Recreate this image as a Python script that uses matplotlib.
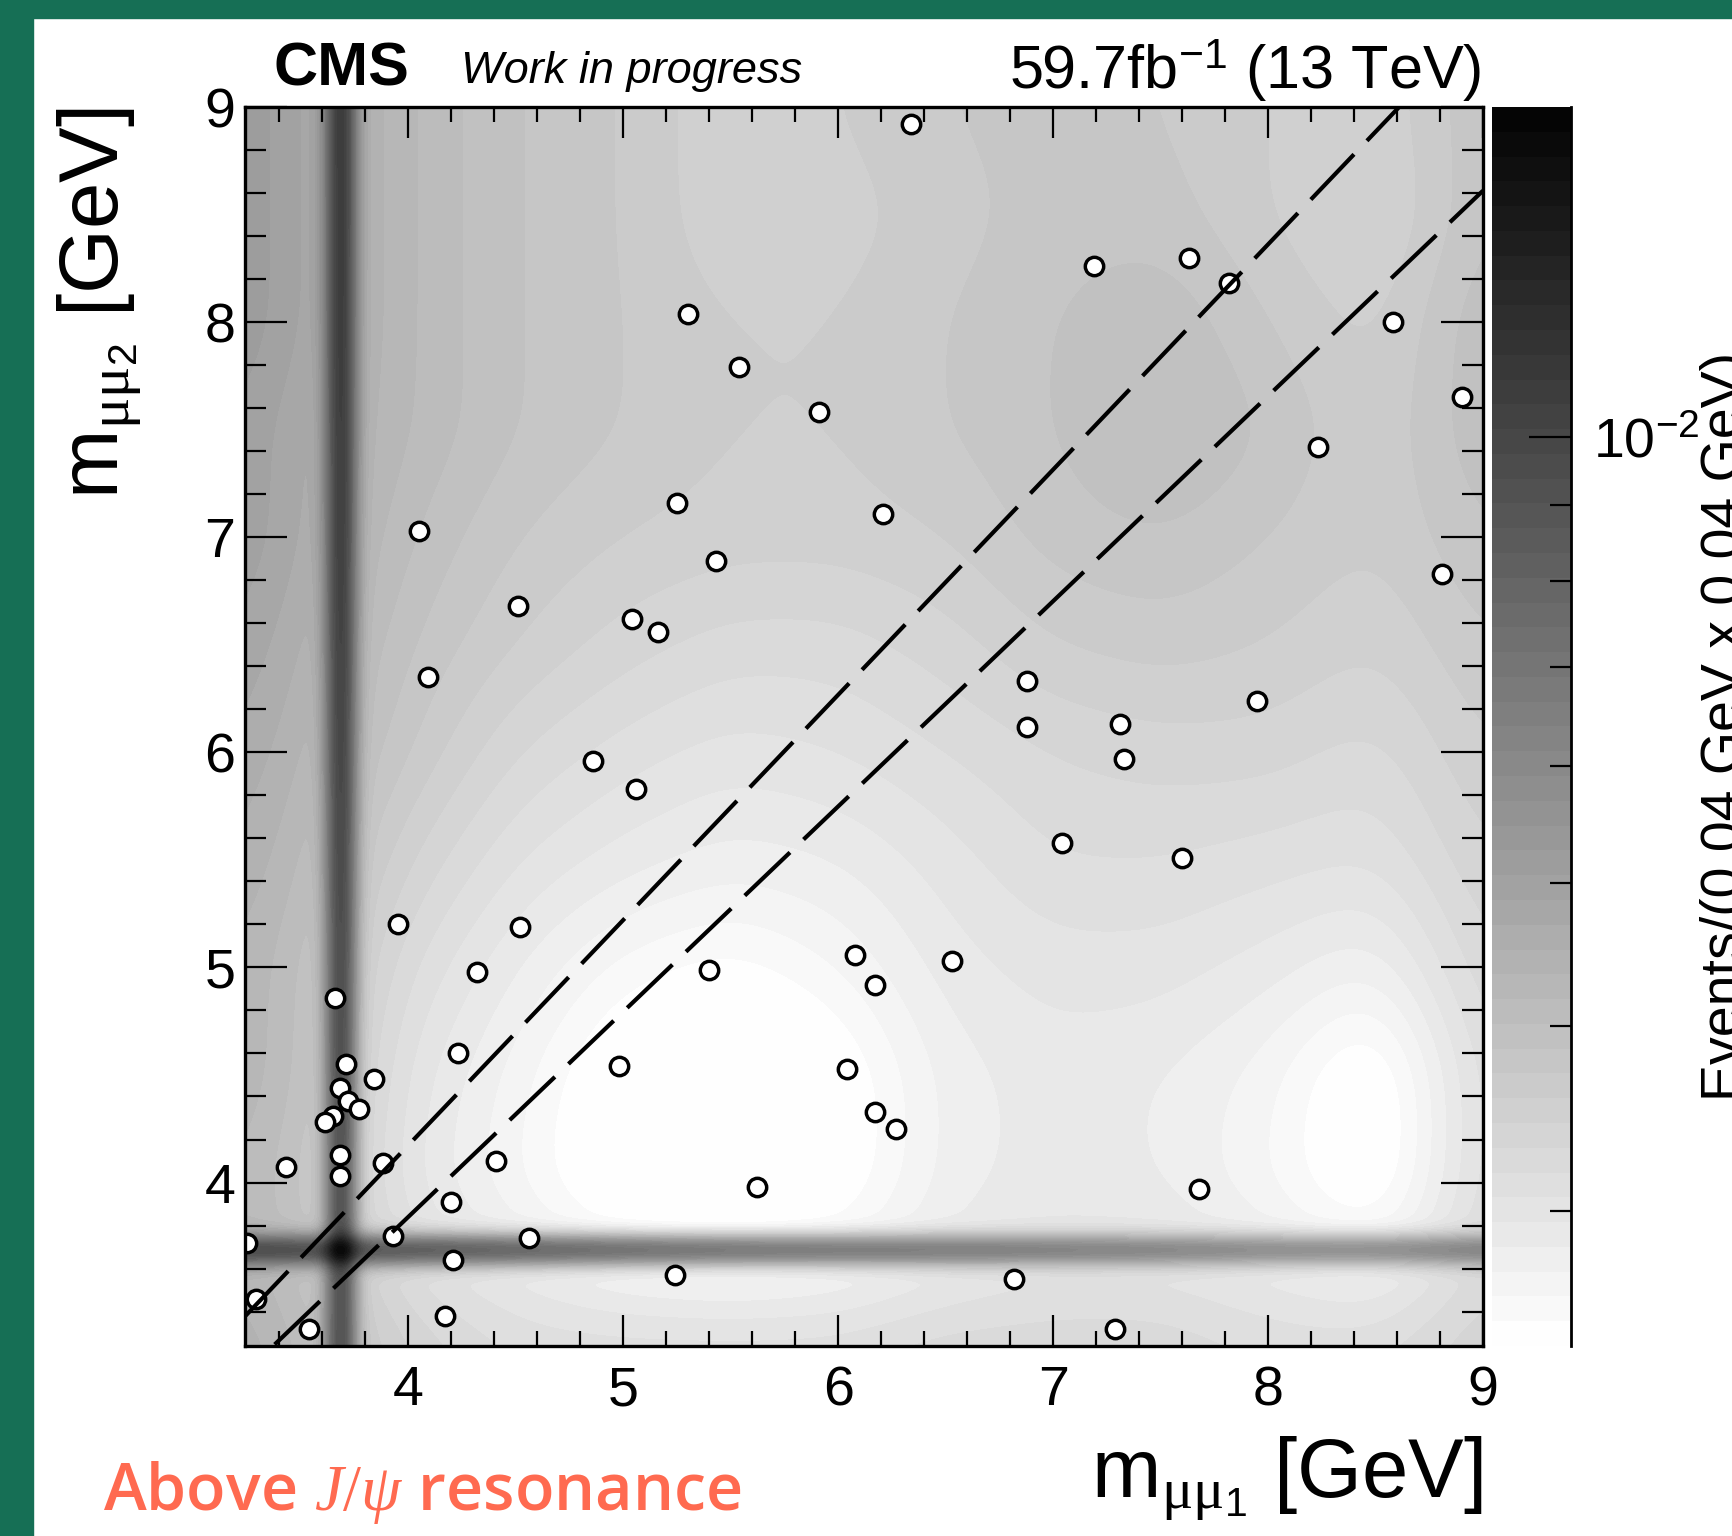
import numpy as np
import matplotlib
matplotlib.use('Agg')
import matplotlib.pyplot as plt
import matplotlib.ticker as mticker
from matplotlib.colors import ListedColormap, LogNorm
from matplotlib.patches import Rectangle

plt.rcParams['font.family'] = ['Liberation Sans', 'DejaVu Sans']
plt.rcParams['mathtext.fontset'] = 'custom'
plt.rcParams['mathtext.rm'] = 'Liberation Serif'
plt.rcParams['mathtext.it'] = 'Liberation Serif:italic'
plt.rcParams['mathtext.sf'] = 'Liberation Sans'

# selected events (m_mumu1, m_mumu2) in GeV
m1 = [6.34, 7.19, 7.63, 7.82, 5.30, 8.58, 5.54, 8.90, 5.91, 8.23,
      5.25, 6.21, 4.05, 5.43, 8.81, 4.51, 5.04, 5.16, 4.09, 6.88,
      7.95, 6.88, 7.31, 7.33, 4.86, 5.06, 7.04, 7.60, 3.95, 4.52,
      6.08, 6.17, 6.53, 4.32, 5.40, 3.66, 4.23, 3.71, 3.68, 3.84,
      3.72, 3.77, 3.65, 3.61, 4.98, 6.04, 6.17, 6.27, 3.68, 3.43,
      3.88, 4.41, 3.68, 5.62, 7.68, 4.20, 3.25, 3.93, 4.56, 4.21,
      5.24, 6.82, 3.29, 3.54, 4.17, 7.29]
m2 = [8.92, 8.26, 8.30, 8.18, 8.04, 8.00, 7.79, 7.65, 7.58, 7.42,
      7.16, 7.11, 7.03, 6.89, 6.83, 6.68, 6.62, 6.56, 6.35, 6.33,
      6.24, 6.12, 6.13, 5.97, 5.96, 5.83, 5.58, 5.51, 5.20, 5.19,
      5.06, 4.92, 5.03, 4.98, 4.99, 4.86, 4.60, 4.55, 4.44, 4.48,
      4.38, 4.34, 4.31, 4.28, 4.54, 4.53, 4.33, 4.25, 4.13, 4.07,
      4.09, 4.10, 4.03, 3.98, 3.97, 3.91, 3.72, 3.75, 3.74, 3.64,
      3.57, 3.55, 3.46, 3.32, 3.38, 3.32]

# dashed edges of the diagonal signal region
upper_x = [3.24, 8.61]
upper_y = [3.378, 9.0]
lower_x = [3.378, 9.0]
lower_y = [3.247, 8.611]

# background pdf, read as contour band (0 = white ... 50 = black) on a 0.5 GeV grid
grid_m = [3.25, 3.5, 4.0, 4.5, 5.0, 5.5, 6.0, 6.5, 7.0, 7.5, 8.0, 8.5, 9.0]
bkg_band = [
    [16, 14, 9, 7, 7, 7, 7, 8, 8, 8, 7, 7, 9],             # m2 = 3.25
    [15, 13, 7, 5, 3.5, 3, 3.5, 5, 6, 6, 5, 4, 8],         # 3.5
    [14, 12, 5, 2, -1.5, -3, -0.5, 3.5, 4.5, 4, 2, -1.5, 7],  # 4.0
    [15, 13, 5.5, 2.5, -1, -3, -0.5, 3.5, 4.5, 4, 2.5, -1.5, 7],  # 4.5
    [15, 13, 7, 4, 1.5, 0.5, 2, 4.5, 5.5, 5.5, 4.5, 3, 8],  # 5.0
    [16, 14, 9, 6, 4.5, 3.5, 4, 5.5, 7, 7, 6.5, 6, 9],     # 5.5
    [17, 15, 11, 8, 6.5, 5.5, 6, 7, 8, 8.5, 8.5, 7.5, 10],  # 6.0
    [18, 16, 12, 10, 8.5, 7.5, 7.5, 8.5, 10, 10.5, 10, 9, 11],  # 6.5
    [19, 17, 13, 11, 10, 9.5, 9.5, 10, 11.5, 12, 11, 10, 12],  # 7.0
    [19, 17, 14, 12, 11, 10, 10, 11, 12, 13.5, 12, 10, 13],  # 7.5
    [20, 18, 14, 12, 11, 10, 10, 11, 12, 13, 11, 9.5, 13],  # 8.0
    [20, 18, 14, 12, 11, 9, 9.5, 10.5, 11.5, 11.5, 10, 8.5, 12],  # 8.5
    [20, 18, 14, 12, 11, 9, 10, 11, 11.5, 11, 10, 9, 12],  # 9.0
]

# psi(2S) bands
psi_mass = 3.686
psi_width = 0.048
vband_m = [3.24, 5.0, 7.0, 9.0]
vband_amp = [5.2e-3, 5.6e-3, 6.0e-3, 6.2e-3]
hband_m = [3.24, 4.2, 5.0, 6.0, 7.0, 8.0, 9.0]
hband_amp = [5.2e-3, 5.0e-3, 4.4e-3, 3.8e-3, 3.2e-3, 2.8e-3, 2.9e-3]
cross_amp = 2.0e-3

z_min, z_max = 2.43e-3, 1.673e-2
n_cont = 50
lo, hi = 3.24, 9.0

# ---- build the pdf map
step = 0.01
me = np.arange(2.6, 9.65, step)
band = np.array(bkg_band, dtype=float)
tmp = np.array([np.interp(me, grid_m, row) for row in band])
fine = np.array([np.interp(me, grid_m, tmp[:, j]) for j in range(len(me))]).T
kern = np.exp(-0.5 * (np.arange(-45, 46) * step / 0.15) ** 2)
kern /= kern.sum()
fine = np.apply_along_axis(lambda v: np.convolve(v, kern, mode='same'), 0, fine)
fine = np.apply_along_axis(lambda v: np.convolve(v, kern, mode='same'), 1, fine)
keep = (me >= lo - 1e-9) & (me <= hi + 1e-9)
fine = fine[np.ix_(keep, keep)]
mm = me[keep]
X, Y = np.meshgrid(mm, mm)

lmin, lmax = np.log10(z_min), np.log10(z_max)
dens = 10 ** (lmin + fine / n_cont * (lmax - lmin))
gx = np.exp(-0.5 * ((X - psi_mass) / psi_width) ** 2)
gy = np.exp(-0.5 * ((Y - psi_mass) / psi_width) ** 2)
dens = dens + np.interp(Y, vband_m, vband_amp) * gx \
    + np.interp(X, hband_m, hband_amp) * gy + cross_amp * gx * gy
dens = np.clip(dens, z_min * 1.0001, z_max * 0.9999)

levels = np.logspace(lmin, lmax, n_cont + 1)
greys = ListedColormap([str(g) for g in np.linspace(0.995, 0.02, n_cont)])

# ---- figure
fig = plt.figure(figsize=(17.33, 15.36), dpi=100)
W, H = 1733.0, 1536.0
fig.patches.append(Rectangle((0, 1 - 18 / H), 1, 18 / H, transform=fig.transFigure,
                             color='#166F55', zorder=0))
fig.patches.append(Rectangle((0, 0), 33 / W, 1, transform=fig.transFigure,
                             color='#166F55', zorder=0))

ax = fig.add_axes([245 / W, 1 - 1346 / H, 1238 / W, 1239 / H])
cs = ax.contourf(X, Y, dens, levels=levels, cmap=greys,
                 norm=LogNorm(vmin=z_min, vmax=z_max))
ax.plot(upper_x, upper_y, color='black', lw=3.0, ls=(0, (15, 4.5)),
        dash_capstyle='butt', zorder=6)
ax.plot(lower_x, lower_y, color='black', lw=3.0, ls=(0, (15, 4.5)),
        dash_capstyle='butt', zorder=6)
ax.scatter(m1, m2, s=175, facecolors='white', edgecolors='black',
           linewidths=2.5, zorder=5)

ax.set_xlim(lo, hi)
ax.set_ylim(lo, hi)
ax.set_xticks([4, 5, 6, 7, 8, 9])
ax.set_yticks([4, 5, 6, 7, 8, 9])
ax.xaxis.set_minor_locator(mticker.MultipleLocator(0.2))
ax.yaxis.set_minor_locator(mticker.MultipleLocator(0.2))
ax.tick_params(which='both', direction='in', top=True, right=True, width=1.6,
               labelsize=40, colors='black')
ax.tick_params(axis='x', which='major', length=22, pad=14)
ax.tick_params(axis='x', which='minor', length=11)
ax.tick_params(axis='y', which='major', length=30, pad=7)
ax.tick_params(axis='y', which='minor', length=15)
for sp in ax.spines.values():
    sp.set_linewidth(2.4)
    sp.set_zorder(10)

# colour bar
cax = fig.add_axes([1492 / W, 1 - 1346 / H, 79 / W, 1239 / H])
cb = fig.colorbar(cs, cax=cax)
cb.outline.set_visible(False)
cax.axvline(1.0, color='black', lw=2.0, clip_on=False)
cb.set_ticks([1e-2], labels=[r'$\mathdefault{10^{-2}}$'])
cax.yaxis.set_minor_locator(mticker.FixedLocator([k * 1e-3 for k in range(3, 10)]))
cax.yaxis.set_minor_formatter(mticker.NullFormatter())
cax.tick_params(which='both', direction='in', right=True, left=False, width=1.6,
                labelsize=40, pad=16)
cax.tick_params(which='major', length=30)
cax.tick_params(which='minor', length=15)

# texts
fig.text(274 / W, 1 - 85 / H, 'CMS', fontsize=44, fontweight='bold', va='baseline')
fig.text(461 / W, 1 - 83 / H, 'Work in progress', fontsize=32.5, style='italic',
         va='baseline')
fig.text(1481 / W, 1 - 88 / H, r'59.7fb$^{\mathregular{-1}}$ (13 TeV)', fontsize=44,
         ha='right', va='baseline')
fig.text(1483 / W, 1 - 1497 / H, r'm$_{\mathrm{\mu\mu}_{\mathsf{1}}}$ [GeV]',
         fontsize=60, ha='right', va='baseline')
fig.text(118 / W, 1 - 107 / H, r'm$_{\mathrm{\mu\mu}_{\mathsf{2}}}$ [GeV]',
         fontsize=60, rotation=90, rotation_mode='anchor', ha='right', va='baseline')
fig.text(1700 / W, 1 - 726 / H, 'Events/(0.04 GeV x 0.04 GeV)', fontsize=40,
         rotation=90, rotation_mode='anchor', ha='center', va='top')
fig.text(103 / W, 1 - 1510 / H, r'Above $J/\psi$ resonance', fontsize=46.5,
         family=['Open Sans', 'DejaVu Sans'], fontweight='semibold', color='#FF6A50',
         va='baseline')

fig.savefig('out.png', dpi=100)
